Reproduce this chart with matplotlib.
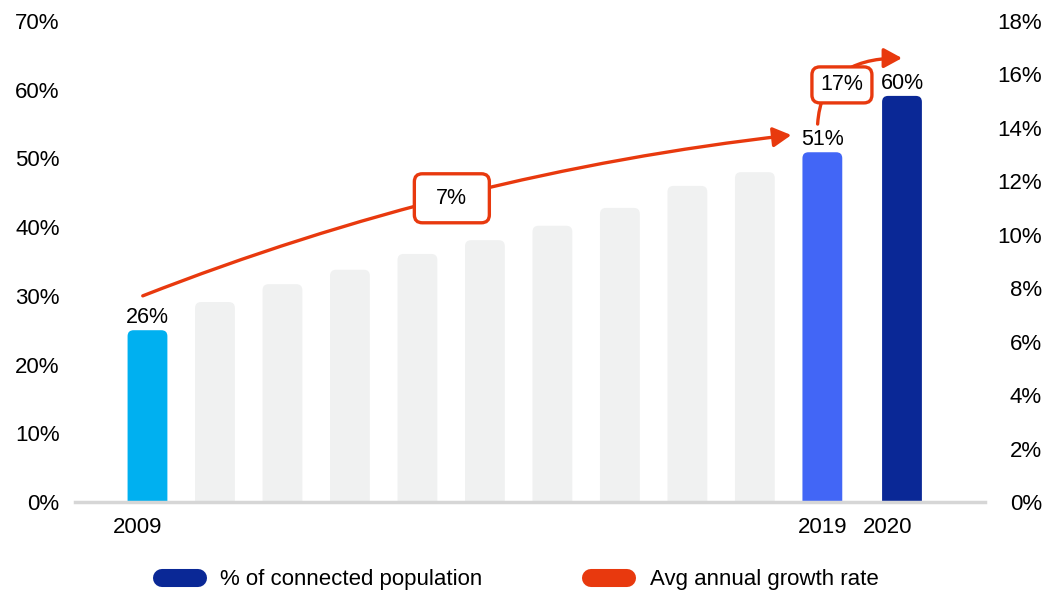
import numpy as np
import matplotlib
matplotlib.use("Agg")
import matplotlib.pyplot as plt
from matplotlib.patches import FancyBboxPatch, FancyArrowPatch
from matplotlib.path import Path
from matplotlib.lines import Line2D
import matplotlib.transforms as mtransforms

plt.rcParams['font.family'] = ['Liberation Sans', 'DejaVu Sans']

# data
years = [2009, 2010, 2011, 2012, 2013, 2014, 2015, 2016, 2017, 2018, 2019, 2020]
connected = [25.0, 29.1, 31.7, 33.8, 36.1, 38.1, 40.2, 42.8, 46.0, 48.0, 50.9, 59.1]
shown_labels = {2009: '26%', 2019: '51%', 2020: '60%'}
growth_labels = ['7%', '17%']
left_ticks = [0, 10, 20, 30, 40, 50, 60, 70]
right_ticks = [0, 2, 4, 6, 8, 10, 12, 14, 16, 18]
series_names = ['% of connected population', 'Avg annual growth rate']

CYAN = '#00B0F0'
GREY = '#F0F1F1'
BLUE = '#4266F6'
NAVY = '#0A2896'
ORANGE = '#E8390E'

# 2020 sits a bit further away from the rest
xpos = np.arange(len(years), dtype=float)
xpos[-1] = 11.18
colors = [CYAN] + [GREY] * 9 + [BLUE, NAVY]

fig = plt.figure(figsize=(10.48, 5.92), dpi=100)
ax = fig.add_axes([75 / 1048, 90 / 592, 910 / 1048, 481 / 592])
ax.set_xlim(-1.074, 12.41)
ax.set_ylim(0, 70)

# pixels per data unit, used to keep the corner rounding circular
p0 = ax.transData.transform((0, 0))
p1 = ax.transData.transform((1, 1))
px_x = p1[0] - p0[0]
px_y = p1[1] - p0[1]

bw = 0.59
r = 6 / px_x
for x, v, c in zip(xpos, connected, colors):
    bar = FancyBboxPatch((x - bw / 2, -3), bw, v + 3,
                         boxstyle=f'round,pad=0,rounding_size={r}',
                         mutation_aspect=(px_x / px_y),
                         fc=c, ec='none', zorder=2)
    ax.add_patch(bar)

for x, y, v in zip(xpos, years, connected):
    if y in shown_labels:
        ax.text(x, v + 1.0, shown_labels[y], ha='center', va='baseline',
                fontsize=15.5, zorder=6)

# growth arrows
i19 = years.index(2019)
start = (xpos[0] - 0.07, connected[0] + 5.0)
end = (xpos[i19] - 0.46, connected[i19] + 2.5)
ctrl = (4.585, 47.9)
path1 = Path([start, ctrl, end], [Path.MOVETO, Path.CURVE3, Path.CURVE3])
ax.add_patch(FancyArrowPatch(path=path1, arrowstyle='-|>,head_length=0.55,head_width=0.3',
                             mutation_scale=20, color=ORANGE, lw=2.4, zorder=3))

start2 = (xpos[i19] - 0.07, connected[i19] + 4.1)
ctrl2 = (xpos[i19] - 0.01, connected[-1] + 5.5)
end2 = (xpos[-1], connected[-1] + 5.5)
path2 = Path([start2, ctrl2, end2], [Path.MOVETO, Path.CURVE3, Path.CURVE3])
ax.add_patch(FancyArrowPatch(path=path2, arrowstyle='-|>,head_length=0.55,head_width=0.3',
                             mutation_scale=20, color=ORANGE, lw=2.4, zorder=3))


def growth_box(cx, cy, text, w, h):
    trans = fig.dpi_scale_trans + mtransforms.ScaledTranslation(cx, cy, ax.transData)
    box = FancyBboxPatch((-w / 200, -h / 200), w / 100, h / 100,
                         boxstyle='round,pad=0,rounding_size=0.08',
                         fc='white', ec=ORANGE, lw=2.4, transform=trans, zorder=4)
    ax.add_patch(box)
    ax.text(cx, cy, text, ha='center', va='center', fontsize=15.5, zorder=5)


growth_box(4.51, 44.2, growth_labels[0], 75, 49)
growth_box(10.29, 60.7, growth_labels[1], 60, 36)

# axes styling
for s in ['left', 'right', 'top']:
    ax.spines[s].set_visible(False)
ax.spines['bottom'].set_color('#D6D6D6')
ax.spines['bottom'].set_linewidth(2.5)
ax.spines['bottom'].set_zorder(3)

ax.set_yticks(left_ticks)
ax.set_yticklabels([f'{t}%' for t in left_ticks])
ax.tick_params(axis='y', length=0, pad=11, labelsize=16)

label_x = [xpos[0] - 0.14, xpos[i19] + 0.01, xpos[-1] - 0.21]
ax.set_xticks(label_x)
ax.set_xticklabels(['2009', '2019', '2020'])
ax.tick_params(axis='x', length=0, pad=11, labelsize=16)

ax2 = ax.twinx()
ax2.set_ylim(0, 18)
ax2.set_yticks(right_ticks)
ax2.set_yticklabels([f'{t}%' for t in right_ticks])
for s in ax2.spines.values():
    s.set_visible(False)
ax2.tick_params(axis='y', length=0, pad=41, labelsize=16)
for lab in ax2.get_yticklabels():
    lab.set_ha('right')

handles = [Line2D([0], [0], color=NAVY, lw=13, solid_capstyle='round'),
           Line2D([0], [0], color=ORANGE, lw=13, solid_capstyle='round')]
fig.legend(handles, series_names, loc='center left',
           bbox_to_anchor=(162 / 1048, 12 / 592), ncol=2, frameon=False,
           handlelength=1.62, handletextpad=1.0, columnspacing=4.9,
           borderpad=0, borderaxespad=0, fontsize=16)

fig.savefig('out.png', dpi=100, facecolor='white')
